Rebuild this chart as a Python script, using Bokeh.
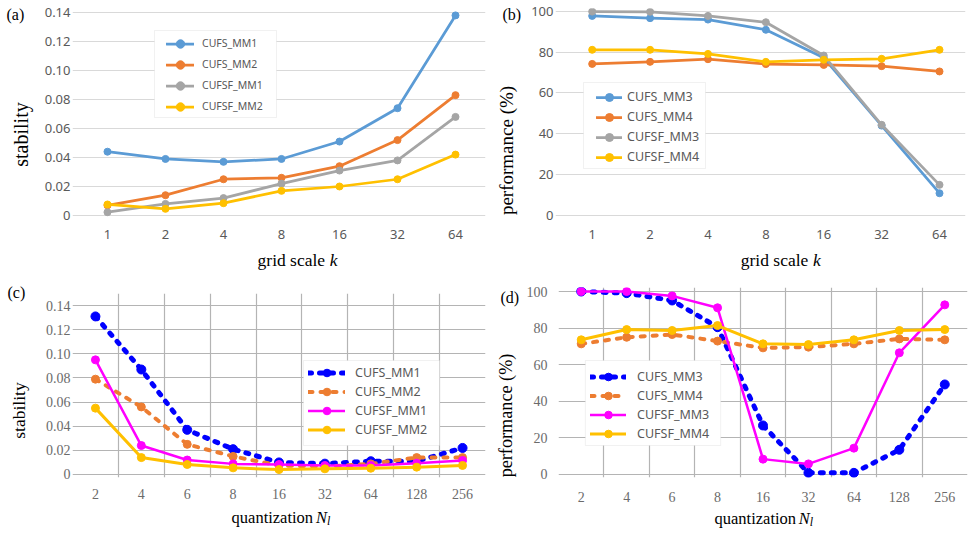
import math
from bokeh.plotting import figure
from bokeh.models import (Range1d, FixedTicker, Label, Legend, LegendItem,
                          BoxAnnotation)
from bokeh.layouts import column, row
from bokeh.embed import file_html
from bokeh.resources import INLINE

# ---------------- data ----------------
grid_k = ["1", "2", "4", "8", "16", "32", "64"]
a_cufs_mm1 = [0.044, 0.039, 0.037, 0.039, 0.051, 0.074, 0.138]
a_cufs_mm2 = [0.007, 0.014, 0.025, 0.026, 0.034, 0.052, 0.083]
a_cufsf_mm1 = [0.0023, 0.008, 0.012, 0.022, 0.031, 0.038, 0.068]
a_cufsf_mm2 = [0.0076, 0.0046, 0.0085, 0.017, 0.020, 0.025, 0.042]

b_cufs_mm3 = [97.7, 96.6, 95.9, 90.9, 77.2, 44.0, 10.9]
b_cufs_mm4 = [74.2, 75.2, 76.5, 74.1, 73.7, 73.1, 70.5]
b_cufsf_mm3 = [99.8, 99.7, 97.7, 94.6, 78.3, 44.4, 15.0]
b_cufsf_mm4 = [81.1, 81.1, 79.1, 75.2, 76.2, 76.7, 81.1]

quant = ["2", "4", "6", "8", "16", "32", "64", "128", "256"]
c_cufs_mm1 = [0.131, 0.087, 0.037, 0.021, 0.010, 0.009, 0.011, 0.011, 0.022]
c_cufs_mm2 = [0.079, 0.056, 0.025, 0.015, 0.0075, 0.0066, 0.0088, 0.014, 0.014]
c_cufsf_mm1 = [0.095, 0.024, 0.012, 0.0088, 0.0083, 0.0075, 0.0075, 0.0094, 0.0116]
c_cufsf_mm2 = [0.055, 0.014, 0.0083, 0.0055, 0.0041, 0.0047, 0.0052, 0.0061, 0.0075]

d_cufs_mm3 = [100, 99.1, 95.1, 80.5, 26.8, 0.9, 0.9, 13.5, 49.2]
d_cufs_mm4 = [71.4, 75.0, 76.5, 72.9, 69.2, 69.6, 71.4, 74.1, 73.6]
d_cufsf_mm3 = [100, 100, 97.6, 91.1, 8.4, 5.8, 14.4, 66.5, 92.7]
d_cufsf_mm4 = [73.6, 79.2, 78.7, 81.4, 71.4, 71.0, 73.6, 78.7, 79.2]

stab_ticks = [0, 0.02, 0.04, 0.06, 0.08, 0.10, 0.12, 0.14]
stab_labels = ["0", "0.02", "0.04", "0.06", "0.08", "0.10", "0.12", "0.14"]
perf_ticks = [0, 20, 40, 60, 80, 100]

# ---------------- styles ----------------
XL_BLUE, XL_ORANGE, XL_GRAY, XL_YELLOW = "#5B9BD5", "#ED7D31", "#A5A5A5", "#FFC000"
BLUE, MAGENTA = "#0000FF", "#FF00FF"
SERIF = "Liberation Serif"
SANS = "Noto Sans"
HALF_PI = math.pi / 2

TOP_H = 276      # height of the upper row
BOT_H = 258      # height of the lower row
TEXT_SHIFT = 5   # text sits this many px "below" its anchor; compensate


def to_data(g, X, Y):
    x = g["x0"] + (X - g["fl"]) / (g["fr"] - g["fl"]) * (g["x1"] - g["x0"])
    y = g["y0"] + (g["fb"] - Y) / (g["fb"] - g["ft"]) * (g["y1"] - g["y0"])
    return x, y


def make_fig(g):
    p = figure(width=g["w"], height=g["h"], output_backend="svg",
               toolbar_location=None,
               x_range=Range1d(g["x0"], g["x1"]), y_range=Range1d(g["y0"], g["y1"]),
               min_border_left=g["fl"] - g["ox"], min_border_right=g["ox"] + g["w"] - g["fr"],
               min_border_top=g["ft"] - g["oy"], min_border_bottom=g["oy"] + g["h"] - g["fb"])
    p.outline_line_color = None
    p.background_fill_color = "white"
    p.border_fill_color = "white"
    for ax in (p.xaxis[0], p.yaxis[0]):
        ax.axis_line_color = None
        ax.major_tick_line_color = None
        ax.minor_tick_line_color = None
        ax.major_tick_out = 0
        ax.major_tick_in = 0
    return p


def text_fig(ox, oy, w, h, texts):
    """A bare canvas holding only text labels; positions given in page pixels."""
    p = figure(width=w, height=h, output_backend="svg", toolbar_location=None,
               x_range=Range1d(0, w), y_range=Range1d(0, h),
               x_axis_type=None, y_axis_type=None, min_border=0)
    p.outline_line_color = None
    p.grid.visible = False
    p.background_fill_color = "white"
    p.border_fill_color = "white"
    for t in texts:
        X, Y, text, size = t[:4]
        opts = dict(italic=False, align="left", baseline="alphabetic", angle=0.0)
        if len(t) > 4:
            opts.update(t[4])
        if opts["angle"]:
            X -= TEXT_SHIFT
        else:
            Y -= TEXT_SHIFT
        p.add_layout(Label(x=X - ox, y=oy + h - Y, text=text, text_font=SERIF,
                           text_font_size=f"{size}px",
                           text_font_style="italic" if opts["italic"] else "normal",
                           text_align=opts["align"], text_baseline=opts["baseline"],
                           angle=opts["angle"], text_color="black"))
    return p


def add_series(p, xs, ys, color, width, size, dash="solid"):
    r1 = p.line(xs, ys, line_color=color, line_width=width, line_dash=dash,
                line_cap="round", line_join="round")
    r2 = p.scatter(xs, ys, marker="circle", size=size, fill_color=color,
                   line_color=color)
    return [r1, r2]


def add_legend(p, g, items, box, glyph_x, top_y, row_h, glyph_w, standoff, font_size):
    l, r, t, b = box
    x0, y0 = to_data(g, l, b)
    x1, y1 = to_data(g, r, t)
    p.add_layout(BoxAnnotation(left=x0, right=x1, bottom=y0, top=y1,
                               fill_color="white", fill_alpha=1.0,
                               line_color="#d0d0d0", line_width=1))
    bottom = top_y + len(items) * row_h
    leg = Legend(items=[LegendItem(label=lab, renderers=rs) for lab, rs in items],
                 location=(glyph_x - g["fl"], g["fb"] - bottom),
                 padding=0, margin=0, spacing=0,
                 label_height=row_h, glyph_height=row_h, glyph_width=glyph_w,
                 label_standoff=standoff,
                 label_text_font=SANS, label_text_font_size=f"{font_size}px",
                 label_text_color="#595959",
                 border_line_color=None, background_fill_alpha=0.0)
    p.add_layout(leg)


# ---------------- panel (a) ----------------
gA = dict(ox=40, oy=0, w=448, h=246, fl=72, fr=485, ft=8, fb=218,
          x0=-0.603, x1=6.517, y0=-0.00207, y1=0.14276)
pa = make_fig(gA)
xa = list(range(len(grid_k)))
ra = [("CUFS_MM1", add_series(pa, xa, a_cufs_mm1, XL_BLUE, 2.75, 7)),
      ("CUFS_MM2", add_series(pa, xa, a_cufs_mm2, XL_ORANGE, 2.75, 7)),
      ("CUFSF_MM1", add_series(pa, xa, a_cufsf_mm1, XL_GRAY, 2.75, 7)),
      ("CUFSF_MM2", add_series(pa, xa, a_cufsf_mm2, XL_YELLOW, 2.75, 7))]

# ---------------- panel (b) ----------------
gB = dict(ox=528, oy=0, w=446, h=246, fl=555, fr=965, ft=8, fb=218,
          x0=-0.634, x1=6.449, y0=-1.47, y1=101.32)
pb = make_fig(gB)
rb = [("CUFS_MM3", add_series(pb, xa, b_cufs_mm3, XL_BLUE, 2.75, 7)),
      ("CUFS_MM4", add_series(pb, xa, b_cufs_mm4, XL_ORANGE, 2.75, 7)),
      ("CUFSF_MM3", add_series(pb, xa, b_cufsf_mm3, XL_GRAY, 2.75, 7)),
      ("CUFSF_MM4", add_series(pb, xa, b_cufsf_mm4, XL_YELLOW, 2.75, 7))]

for p in (pa, pb):
    p.xaxis.ticker = FixedTicker(ticks=xa)
    p.xaxis.major_label_overrides = {i: s for i, s in enumerate(grid_k)}
    p.xgrid.grid_line_color = None
    p.ygrid.grid_line_color = "#d9d9d9"
    p.ygrid.grid_line_width = 1
    for ax in (p.xaxis[0], p.yaxis[0]):
        ax.major_label_text_font = SANS
        ax.major_label_text_font_size = "13px"
        ax.major_label_text_color = "#595959"
    p.xaxis.major_label_standoff = 11
    p.yaxis.major_label_standoff = 2

pa.yaxis.ticker = FixedTicker(ticks=stab_ticks)
pa.yaxis.major_label_overrides = dict(zip(stab_ticks, stab_labels))
pb.yaxis.ticker = FixedTicker(ticks=perf_ticks)

# ---------------- panel (c) ----------------
gC = dict(ox=40, oy=TOP_H, w=448, h=504 - TOP_H, fl=72, fr=485, ft=293, fb=477,
          x0=-0.5, x1=8.5, y0=-0.00249, y1=0.15)
pc = make_fig(gC)
xq = list(range(len(quant)))
rc = [("CUFS_MM1", add_series(pc, xq, c_cufs_mm1, BLUE, 5, 9, "3 8")),
      ("CUFS_MM2", add_series(pc, xq, c_cufs_mm2, XL_ORANGE, 4, 8, "4 8")),
      ("CUFSF_MM1", add_series(pc, xq, c_cufsf_mm1, MAGENTA, 2.5, 8)),
      ("CUFSF_MM2", add_series(pc, xq, c_cufsf_mm2, XL_YELLOW, 3, 8))]

# ---------------- panel (d) ----------------
gD = dict(ox=523, oy=TOP_H, w=451, h=507 - TOP_H, fl=556, fr=967, ft=287, fb=477,
          x0=-0.5, x1=8.5, y0=-1.64, y1=102.19)
pd_ = make_fig(gD)
rd = [("CUFS_MM3", add_series(pd_, xq, d_cufs_mm3, BLUE, 5, 9, "3 8")),
      ("CUFS_MM4", add_series(pd_, xq, d_cufs_mm4, XL_ORANGE, 4, 8, "4 8")),
      ("CUFSF_MM3", add_series(pd_, xq, d_cufsf_mm3, MAGENTA, 2.5, 8)),
      ("CUFSF_MM4", add_series(pd_, xq, d_cufsf_mm4, XL_YELLOW, 3, 8))]

for p in (pc, pd_):
    p.xaxis.ticker = FixedTicker(ticks=xq)
    p.xaxis.major_label_overrides = {i: s for i, s in enumerate(quant)}
    p.xgrid.ticker = FixedTicker(ticks=[i - 0.5 for i in range(len(quant) + 1)])
    for gr in (p.xgrid[0], p.ygrid[0]):
        gr.grid_line_color = "#b4b4b4"
        gr.grid_line_width = 1.2
    for ax in (p.xaxis[0], p.yaxis[0]):
        ax.major_label_text_font = SERIF
        ax.major_label_text_font_size = "14px"
        ax.major_label_text_color = "#6b6b6b"

pc.yaxis.ticker = FixedTicker(ticks=stab_ticks)
pc.yaxis.major_label_overrides = dict(zip(stab_ticks, stab_labels))
pc.ygrid.ticker = FixedTicker(ticks=stab_ticks + [0.15])
pc.xaxis.major_label_standoff = 11
pc.yaxis.major_label_standoff = 2
pd_.yaxis.ticker = FixedTicker(ticks=perf_ticks)
pd_.xaxis.major_label_standoff = 14
pd_.yaxis.major_label_standoff = 11

# ---------------- legends ----------------
add_legend(pa, gA, ra, (154, 276, 30, 117), 166, 32.8, 21, 28, 8, 10.5)
add_legend(pb, gB, rb, (583, 705, 82, 168), 596, 86.8, 20, 26, 5, 12.5)
add_legend(pc, gC, rc, (303, 439, 360, 445), 308, 363.2, 19, 37, 10, 12.5)
add_legend(pd_, gD, rd, (583, 719, 360, 445), 588, 366.5, 19, 36, 11, 12.5)

# ---------------- axis titles and panel letters ----------------
V = dict(align="center", baseline="middle", angle=HALF_PI)
ya = text_fig(0, 0, 40, TOP_H, [(6, 19, "(a)", 16),
                                (25, 134, "stability", 20, V)])
xa_t = text_fig(40, 246, 448, TOP_H - 246,
                [(314, 264, "grid scale", 17.5, dict(align="right")),
                 (319, 264, "k", 17.5, dict(italic=True))])
yb = text_fig(488, 0, 40, TOP_H, [(502, 19, "(b)", 16),
                                  (510.7, 150, "performance (%)", 19, V)])
xb_t = text_fig(528, 246, 446, TOP_H - 246,
                [(803, 264, "grid scale", 17.5, dict(align="right")),
                 (808, 264, "k", 17.5, dict(italic=True))])
yc = text_fig(0, TOP_H, 40, BOT_H, [(7, 297, "(c)", 16),
                                    (23.3, 410, "stability", 17.5, V)])
xc_t = text_fig(40, 504, 448, TOP_H + BOT_H - 504,
                [(301, 522, "quantization", 16.5, dict(align="right")),
                 (304, 522, "N", 16.5, dict(italic=True)),
                 (316, 525, "l", 12, dict(italic=True))])
yd = text_fig(488, TOP_H, 35, BOT_H, [(500, 302, "(d)", 16),
                                      (510.7, 415, "performance (%)", 18.2, V)])
xd_t = text_fig(523, 507, 451, TOP_H + BOT_H - 507,
                [(785, 523, "quantization", 16.5, dict(align="right")),
                 (788, 523, "N", 16.5, dict(italic=True)),
                 (800, 526, "l", 12, dict(italic=True))])

layout = column(
    row(ya, column(pa, xa_t), yb, column(pb, xb_t)),
    row(yc, column(pc, xc_t), yd, column(pd_, xd_t)),
)
open("out.html", "w").write(file_html(layout, INLINE))
